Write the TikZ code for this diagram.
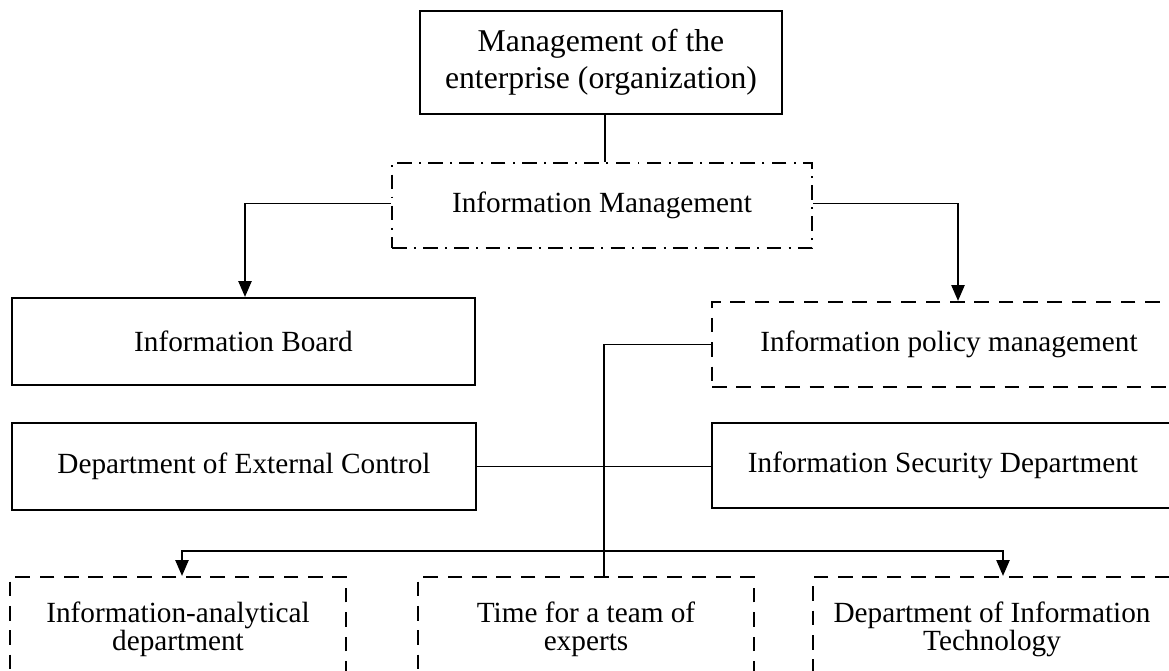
\documentclass[tikz,border=0pt]{standalone}
\usepackage{fontspec}
\setmainfont{Liberation Serif}
\usetikzlibrary{arrows.meta}
\newcommand{\pu}{0.41pt}

\begin{document}
\begin{tikzpicture}[x=0.41pt,y=-0.41pt,
  solidbox/.style={draw,line width=0.95pt,align=center,inner sep=0pt,
    font=\fontsize{12}{11.4}\selectfont},
  dashbox/.style={solidbox,dash pattern=on 6pt off 4pt},
  dashdotbox/.style={solidbox,dash pattern=on 6pt off 3pt on 0.8pt off 3pt},
  link/.style={line width=0.5pt},
  arr/.style={link,-{Triangle[length=6.5pt,width=5.5pt]}}]
  \useasboundingbox (0,0) rectangle (1169,670);
  \clip (0,0) rectangle (1169,670);
  % top level
  \node[solidbox,minimum width=362*\pu,minimum height=103*\pu,
    font=\fontsize{13}{15}\selectfont] (top) at (601,62.5)
    {Management of the\\enterprise (organization)};
  \node[dashdotbox,minimum width=420*\pu,minimum height=85*\pu] (infomgmt) at (602,205.5)
    {Information Management};
  % second level
  \node[solidbox,minimum width=463*\pu,minimum height=87*\pu] (board) at (243.5,341.5)
    {Information Board};
  \node[dashbox,minimum width=474*\pu,minimum height=85*\pu] (policy) at (949,344.5)
    {Information policy management};
  \node[solidbox,minimum width=464*\pu,minimum height=87*\pu] (extctrl) at (244,466.5)
    {Department of External Control};
  \node[solidbox,minimum width=462*\pu,minimum height=85*\pu] (security) at (943,465.5)
    {Information Security Department};
  % bottom level
  \node[dashbox,minimum width=336*\pu,minimum height=104*\pu] (analytic) at (178,629)
    {Information-analytical\\department};
  \node[dashbox,minimum width=336*\pu,minimum height=104*\pu] (experts) at (586,629)
    {Time for a team of\\experts};
  \node[dashbox,minimum width=358*\pu,minimum height=104*\pu] (infotech) at (992,629)
    {Department of Information\\Technology};
  \coordinate (hub) at (604,551);
  % connectors
  \draw[link] ([xshift=4*\pu]top.south) -- ([xshift=4*\pu]top.south |- infomgmt.north);
  \draw[arr] ([yshift=2*\pu]infomgmt.west) -| ([xshift=1.5*\pu]board.north);
  \draw[arr] ([yshift=2*\pu]infomgmt.east) -| ([xshift=9*\pu]policy.north);
  \draw[link] (policy.west) -| ([xshift=18*\pu]experts.north);
  \draw[arr] (hub) -| ([xshift=4*\pu]analytic.north);
  \draw[arr] (hub) -| ([xshift=11*\pu]infotech.north);
  \draw[link] (extctrl.east) -- (extctrl.east -| security.west);
\end{tikzpicture}
\end{document}
